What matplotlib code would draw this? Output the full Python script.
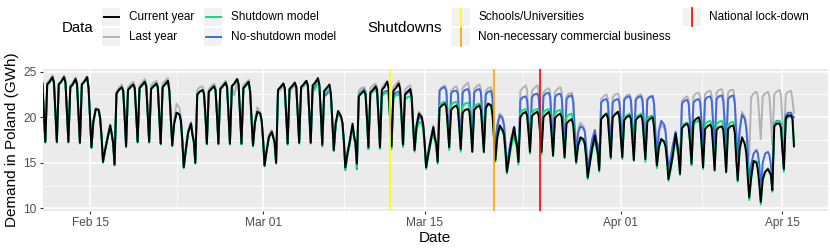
import pandas as pd
import matplotlib
matplotlib.use("Agg")
import matplotlib.pyplot as plt
import matplotlib.dates as mdates
from matplotlib.patches import Rectangle

plt.rcParams['font.family'] = ['Liberation Sans', 'DejaVu Sans']

# one row per day starting Mon 2020-02-10, values at these hours (GWh)
first_day = "2020-02-10"
hours = [0, 3, 7, 12, 18, 21]

current_year = [
    (20.0, 17.2, 23.3, 23.7, 24.2, 23.7), (20.6, 17.3, 23.6, 23.9, 24.4, 23.8),
    (20.6, 17.3, 23.6, 23.9, 24.4, 23.8), (20.5, 17.3, 23.3, 23.6, 24.2, 23.6),
    (20.5, 17.2, 23.6, 23.9, 24.4, 23.2), (19.9, 16.7, 19.5, 20.9, 20.8, 19.9),
    (17.9, 15.1, 16.3, 17.6, 19.1, 18.2), (17.2, 14.8, 22.6, 23.0, 23.3, 22.9),
    (20.1, 16.8, 23.0, 23.3, 23.6, 23.2), (20.4, 17.3, 23.2, 23.5, 23.9, 23.4),
    (20.4, 17.3, 23.1, 23.4, 23.7, 23.3), (20.3, 17.1, 23.3, 23.6, 24.0, 22.9),
    (19.8, 16.9, 19.3, 20.5, 20.3, 19.6), (17.4, 14.5, 16.3, 18.3, 19.3, 18.1),
    (17.3, 15.0, 22.5, 22.8, 23.0, 22.6), (20.2, 17.1, 22.8, 23.1, 23.4, 23.0),
    (20.3, 17.1, 23.1, 23.4, 23.8, 23.3), (20.4, 17.1, 23.4, 23.7, 24.2, 23.6),
    (20.4, 17.1, 23.2, 23.5, 23.9, 22.8), (19.7, 16.9, 19.4, 20.6, 20.4, 19.6),
    (17.5, 14.7, 16.2, 17.8, 18.4, 17.8), (17.2, 15.0, 23.0, 23.3, 23.7, 23.2),
    (20.3, 17.1, 23.1, 23.4, 23.8, 23.3), (20.4, 17.2, 23.3, 23.6, 24.0, 23.5),
    (20.5, 17.2, 23.5, 23.8, 24.3, 23.6), (20.5, 17.0, 22.9, 23.2, 23.6, 22.6),
    (19.6, 16.4, 19.4, 20.7, 20.1, 19.4), (17.3, 14.5, 15.9, 17.3, 19.3, 18.0),
    (17.2, 14.9, 22.3, 22.6, 22.9, 22.5), (19.9, 16.7, 22.7, 23.0, 23.4, 23.0),
    (20.1, 16.7, 23.0, 23.3, 23.9, 23.2), (20.1, 16.8, 22.9, 23.2, 23.7, 23.1),
    (20.0, 17.0, 22.5, 22.8, 23.1, 22.2), (19.1, 16.4, 19.0, 20.4, 20.0, 19.1),
    (17.1, 14.5, 15.8, 17.2, 18.9, 17.7), (17.1, 15.1, 21.0, 21.3, 21.5, 21.1),
    (19.0, 16.7, 20.8, 21.1, 21.3, 20.9), (18.9, 16.5, 20.5, 20.8, 20.9, 20.6),
    (18.8, 16.2, 20.8, 21.1, 21.3, 20.8), (18.6, 16.2, 21.0, 21.5, 21.3, 20.3),
    (17.9, 15.3, 17.8, 19.1, 18.6, 18.1), (16.3, 14.0, 15.4, 17.3, 18.9, 17.6),
    (16.9, 15.1, 20.0, 20.4, 20.6, 20.2), (18.4, 16.2, 20.1, 20.4, 20.6, 20.2),
    (18.3, 16.2, 20.0, 20.3, 20.6, 20.1), (18.1, 15.8, 19.9, 20.2, 20.4, 20.0),
    (17.9, 15.6, 19.3, 19.6, 19.8, 19.1), (17.1, 15.1, 16.9, 17.8, 17.6, 17.1),
    (15.6, 13.4, 14.8, 16.5, 18.0, 17.0), (16.1, 14.2, 19.8, 20.1, 20.4, 19.9),
    (17.8, 15.6, 20.0, 20.3, 20.6, 20.0), (17.7, 15.6, 19.7, 20.0, 20.2, 19.8),
    (17.6, 15.3, 19.7, 20.0, 20.2, 19.7), (17.5, 15.4, 19.5, 19.8, 20.0, 19.0),
    (16.7, 14.7, 16.7, 17.6, 17.3, 16.8), (15.3, 13.2, 14.3, 15.8, 18.2, 17.0),
    (15.8, 13.8, 18.8, 19.1, 19.3, 18.9), (17.2, 14.9, 19.5, 19.8, 20.0, 19.4),
    (17.0, 14.5, 18.7, 19.0, 19.2, 18.8), (16.7, 14.2, 18.6, 18.9, 19.0, 18.6),
    (16.5, 14.0, 18.7, 19.0, 19.1, 18.3), (15.4, 13.1, 16.5, 17.8, 17.0, 16.0),
    (13.3, 11.2, 13.4, 15.2, 15.0, 14.2), (12.6, 10.7, 13.2, 14.0, 14.3, 14.0),
    (13.7, 12.0, 19.0, 19.3, 19.3, 18.8), (16.4, 14.3, 19.9, 20.2, 20.2, 19.8),
    (16.8,),
]

last_year = [
    (20.2, 17.4, 23.6, 23.9, 24.4, 23.9), (20.8, 17.4, 23.8, 24.1, 24.6, 24.0),
    (20.8, 17.4, 23.7, 24.0, 24.6, 24.0), (20.6, 17.4, 23.5, 23.8, 24.4, 23.8),
    (20.6, 17.3, 23.7, 24.0, 24.5, 23.3), (20.0, 16.8, 19.7, 21.0, 20.9, 20.0),
    (18.0, 15.2, 16.4, 17.8, 19.2, 18.3), (17.3, 14.9, 22.8, 23.2, 23.6, 23.1),
    (20.3, 17.0, 23.3, 23.6, 23.9, 23.4), (20.6, 17.4, 23.5, 23.8, 24.2, 23.6),
    (20.6, 17.4, 23.5, 23.8, 24.0, 23.5), (20.5, 17.3, 23.7, 24.0, 24.3, 23.2),
    (20.1, 17.2, 19.8, 21.5, 21.0, 20.0), (17.7, 14.7, 16.6, 18.6, 19.5, 18.3),
    (17.5, 15.2, 23.0, 23.3, 23.4, 22.9), (20.4, 17.3, 23.1, 23.4, 23.7, 23.3),
    (20.5, 17.3, 23.3, 23.6, 24.0, 23.5), (20.6, 17.3, 23.4, 22.4, 24.0, 23.5),
    (20.6, 17.3, 23.5, 23.8, 24.1, 23.0), (19.9, 17.0, 19.7, 21.1, 20.6, 19.8),
    (17.7, 14.9, 16.5, 18.1, 18.6, 18.0), (17.4, 15.2, 22.7, 23.0, 23.5, 23.0),
    (20.4, 17.3, 22.8, 23.1, 23.5, 23.1), (20.5, 17.3, 23.0, 23.3, 23.8, 23.3),
    (20.6, 17.3, 23.1, 23.4, 23.8, 23.3), (20.5, 17.2, 22.7, 23.0, 23.3, 22.4),
    (19.7, 16.6, 19.4, 20.6, 20.2, 19.5), (17.5, 14.7, 16.2, 17.5, 19.0, 18.0),
    (17.4, 15.0, 22.9, 23.2, 23.3, 22.9), (20.1, 16.9, 23.2, 23.5, 23.7, 23.3),
    (20.3, 16.9, 23.3, 23.6, 24.0, 23.4), (20.3, 17.0, 23.3, 23.6, 24.0, 23.4),
    (20.2, 17.1, 23.0, 23.3, 23.5, 22.6), (19.4, 16.6, 19.3, 20.6, 20.2, 19.4),
    (17.3, 14.7, 16.2, 17.6, 19.1, 18.0), (17.4, 15.3, 23.0, 23.3, 23.5, 23.0),
    (20.2, 17.2, 22.9, 23.2, 23.4, 23.0), (20.2, 17.2, 23.2, 23.5, 23.8, 23.2),
    (20.2, 17.2, 23.1, 23.4, 23.6, 23.1), (20.0, 17.1, 22.9, 23.2, 23.3, 22.4),
    (19.3, 16.5, 19.2, 20.4, 20.1, 19.3), (17.2, 14.6, 16.1, 17.6, 19.0, 18.0),
    (17.4, 15.3, 22.9, 23.2, 23.5, 23.0), (20.0, 17.1, 22.9, 23.2, 23.5, 23.0),
    (20.0, 17.0, 22.7, 23.0, 23.2, 22.8), (19.9, 17.0, 22.8, 23.1, 23.3, 22.8),
    (19.7, 16.9, 22.3, 22.6, 22.7, 21.9), (18.9, 16.2, 18.6, 19.4, 19.0, 18.6),
    (16.9, 14.3, 15.7, 17.3, 18.5, 17.5), (17.0, 14.8, 22.0, 22.3, 22.5, 22.0),
    (19.4, 16.7, 22.2, 22.5, 22.6, 22.2), (19.4, 16.7, 22.1, 22.4, 22.5, 22.1),
    (19.4, 16.6, 22.1, 22.4, 22.5, 22.1), (19.3, 16.5, 22.0, 22.3, 22.4, 21.6),
    (18.3, 15.8, 18.3, 19.2, 18.8, 18.2), (16.5, 14.0, 15.4, 16.8, 18.3, 17.2),
    (16.8, 14.6, 21.8, 22.1, 22.3, 21.9), (19.3, 16.6, 22.3, 22.6, 22.7, 22.2),
    (19.3, 16.6, 22.5, 22.8, 22.9, 22.4), (19.4, 16.6, 22.7, 23.0, 23.1, 22.5),
    (19.4, 16.6, 22.7, 23.0, 23.0, 21.9), (18.5, 15.8, 18.4, 20.6, 20.0, 19.0),
    (17.4, 15.8, 22.2, 22.6, 22.8, 22.3), (20.0, 17.6, 22.3, 22.6, 22.8, 22.3),
    (19.8, 17.0, 22.5, 22.8, 23.0, 22.4), (19.8, 17.0, 22.5, 22.8, 22.9, 21.9),
    (20.5,),
]

no_shutdown_model = [
    (20.0, 17.2, 23.3, 23.7, 24.2, 23.7), (20.6, 17.3, 23.6, 23.9, 24.4, 23.8),
    (20.6, 17.3, 23.6, 23.9, 24.4, 23.8), (20.5, 17.3, 23.3, 23.6, 24.2, 23.6),
    (20.5, 17.2, 23.6, 23.9, 24.4, 23.2), (19.9, 16.7, 19.5, 20.9, 20.8, 19.9),
    (17.9, 15.1, 16.3, 17.6, 19.1, 18.2), (17.2, 14.8, 22.6, 23.0, 23.3, 22.9),
    (20.1, 16.8, 23.0, 23.3, 23.6, 23.2), (20.4, 17.3, 23.2, 23.5, 23.9, 23.4),
    (20.4, 17.3, 23.1, 23.4, 23.7, 23.3), (20.3, 17.1, 23.3, 23.6, 24.0, 22.9),
    (19.8, 16.9, 19.3, 20.5, 20.3, 19.6), (17.4, 14.5, 16.3, 18.3, 19.3, 18.1),
    (17.3, 15.0, 22.5, 22.8, 23.0, 22.6), (20.2, 17.1, 22.8, 23.1, 23.4, 23.0),
    (20.3, 17.1, 23.1, 23.4, 23.8, 23.3), (20.4, 17.1, 23.4, 23.7, 24.2, 23.6),
    (20.4, 17.1, 23.2, 23.5, 23.9, 22.8), (19.7, 16.9, 19.4, 20.6, 20.4, 19.6),
    (17.5, 14.7, 16.2, 17.8, 18.4, 17.8), (17.2, 15.0, 23.0, 23.3, 23.7, 23.2),
    (20.3, 17.1, 23.1, 23.4, 23.8, 23.3), (20.4, 17.2, 23.3, 23.6, 24.0, 23.5),
    (20.5, 17.2, 23.1, 23.4, 23.9, 23.4), (20.4, 16.8, 22.3, 22.5, 23.0, 22.3),
    (19.5, 16.3, 19.2, 20.4, 20.0, 19.3), (17.2, 14.2, 15.7, 17.0, 19.0, 17.8),
    (17.0, 14.3, 22.5, 22.8, 23.1, 22.7), (19.8, 16.5, 22.6, 22.9, 23.2, 22.8),
    (19.9, 16.6, 22.5, 22.8, 22.9, 22.5), (19.9, 16.7, 22.4, 22.7, 22.8, 22.5),
    (19.8, 16.8, 22.4, 22.7, 22.8, 22.1), (19.1, 16.4, 18.9, 20.0, 19.8, 19.0),
    (17.0, 14.4, 16.0, 17.5, 18.9, 17.8), (17.1, 15.4, 22.9, 23.2, 23.3, 22.9),
    (19.9, 17.0, 22.6, 22.9, 22.9, 22.6), (19.9, 17.0, 22.7, 23.0, 23.1, 22.7),
    (19.9, 17.0, 22.7, 23.0, 23.1, 22.7), (19.8, 16.8, 22.5, 22.8, 22.9, 22.1),
    (19.0, 16.2, 19.0, 20.2, 19.8, 19.1), (17.0, 14.4, 16.1, 17.6, 18.9, 17.8),
    (17.1, 15.2, 21.9, 22.2, 22.3, 21.9), (19.5, 16.7, 22.2, 22.5, 22.6, 22.2),
    (19.6, 16.7, 22.3, 22.6, 22.7, 22.2), (19.6, 16.6, 22.2, 22.5, 22.6, 22.1),
    (19.4, 16.5, 22.0, 22.3, 22.4, 21.7), (18.6, 16.0, 18.3, 19.0, 18.8, 18.4),
    (16.6, 14.0, 15.6, 17.5, 18.6, 17.5), (16.8, 14.6, 21.6, 21.9, 22.0, 21.6),
    (19.2, 16.4, 21.6, 21.9, 22.0, 21.6), (19.2, 16.4, 21.9, 22.2, 22.3, 21.8),
    (19.2, 16.3, 21.9, 22.2, 22.3, 21.8), (19.1, 16.2, 21.9, 22.2, 22.3, 21.5),
    (18.1, 15.5, 18.5, 19.6, 19.2, 18.5), (16.3, 13.8, 15.3, 16.9, 18.4, 17.2),
    (16.5, 14.4, 21.5, 21.8, 21.9, 21.5), (19.1, 16.2, 21.6, 21.9, 22.0, 21.6),
    (19.1, 16.2, 21.9, 22.2, 22.3, 21.8), (19.2, 16.2, 22.0, 22.3, 22.4, 21.8),
    (19.2, 16.2, 22.0, 22.3, 22.4, 21.5), (18.3, 15.5, 18.5, 20.3, 19.8, 18.7),
    (16.3, 13.0, 14.8, 16.0, 16.4, 16.0), (14.8, 11.8, 15.0, 16.0, 16.2, 15.8),
    (14.8, 12.5, 19.3, 19.6, 19.6, 19.2), (17.4, 14.8, 20.2, 20.5, 20.5, 20.1),
    (20.0,),
]

shutdown_model = [
    (19.9, 17.1, 23.3, 23.7, 24.2, 23.7), (20.5, 17.2, 23.6, 23.9, 24.4, 23.8),
    (20.5, 17.2, 23.6, 23.9, 24.4, 23.8), (20.4, 17.2, 23.3, 23.6, 24.2, 23.6),
    (20.4, 17.1, 23.6, 23.9, 24.4, 23.2), (19.8, 16.6, 19.5, 20.9, 20.8, 19.9),
    (17.8, 15.0, 16.3, 17.6, 19.1, 18.2), (17.1, 14.7, 22.6, 23.0, 23.3, 22.9),
    (20.0, 16.7, 23.0, 23.3, 23.6, 23.2), (20.3, 17.2, 23.2, 23.5, 23.9, 23.4),
    (20.3, 17.2, 23.1, 23.4, 23.7, 23.3), (20.2, 17.0, 23.3, 23.6, 24.0, 22.9),
    (19.7, 16.8, 19.3, 20.5, 20.3, 19.6), (17.3, 14.4, 16.3, 18.3, 19.3, 18.1),
    (17.2, 14.9, 22.5, 22.8, 23.0, 22.6), (20.1, 17.0, 22.8, 23.1, 23.4, 23.0),
    (20.2, 17.0, 23.1, 23.4, 23.8, 23.3), (20.3, 17.0, 23.4, 23.7, 24.2, 23.6),
    (20.3, 17.0, 23.2, 23.5, 23.9, 22.8), (19.6, 16.8, 19.4, 20.6, 20.4, 19.6),
    (17.4, 14.6, 16.2, 17.8, 18.4, 17.8), (17.1, 14.9, 23.0, 23.3, 23.7, 23.2),
    (20.2, 17.0, 23.1, 23.4, 23.8, 23.3), (20.3, 17.1, 23.3, 23.6, 24.0, 23.5),
    (20.4, 17.1, 22.8, 23.1, 23.8, 23.3), (20.3, 16.9, 22.5, 22.8, 23.0, 22.4),
    (19.5, 16.3, 19.2, 20.4, 20.0, 19.3), (17.2, 14.3, 15.7, 17.0, 19.0, 17.8),
    (17.0, 14.5, 22.4, 22.7, 23.0, 22.6), (19.7, 16.5, 22.5, 22.8, 23.0, 22.6),
    (19.8, 16.5, 22.3, 22.6, 22.7, 22.3), (19.7, 16.5, 22.1, 22.4, 22.5, 22.2),
    (19.6, 16.7, 21.9, 22.2, 22.3, 21.7), (18.8, 16.2, 18.5, 19.5, 19.3, 18.6),
    (16.7, 14.3, 15.6, 17.0, 18.6, 17.5), (16.7, 14.9, 21.3, 21.6, 21.7, 21.3),
    (18.9, 16.4, 21.3, 21.6, 21.7, 21.3), (18.9, 16.2, 21.2, 21.5, 21.6, 21.2),
    (18.8, 16.2, 21.1, 21.4, 21.5, 21.1), (18.7, 16.1, 21.0, 21.3, 21.4, 20.6),
    (17.9, 15.1, 17.7, 18.8, 18.5, 17.9), (16.0, 13.8, 15.2, 16.8, 18.0, 17.2),
    (16.5, 14.8, 20.5, 20.8, 20.9, 20.5), (18.4, 16.0, 20.5, 20.8, 20.9, 20.5),
    (18.4, 15.9, 20.5, 20.8, 20.9, 20.4), (18.3, 15.7, 20.4, 20.7, 20.8, 20.3),
    (18.1, 15.5, 20.0, 20.3, 20.4, 19.6), (17.1, 14.9, 16.8, 17.6, 17.4, 17.0),
    (15.3, 13.2, 14.6, 16.2, 17.6, 16.6), (15.8, 14.0, 19.9, 20.2, 20.4, 19.9),
    (17.7, 15.4, 20.1, 20.4, 20.6, 20.0), (17.7, 15.4, 19.9, 20.2, 20.4, 19.9),
    (17.7, 15.2, 19.9, 20.2, 20.4, 19.9), (17.6, 15.1, 19.8, 20.1, 20.2, 19.3),
    (16.6, 14.4, 16.6, 17.6, 17.4, 16.8), (15.1, 13.0, 14.1, 15.6, 17.9, 16.7),
    (15.5, 13.6, 19.0, 19.3, 19.4, 19.0), (17.1, 14.7, 19.2, 19.5, 19.6, 19.2),
    (17.0, 14.3, 19.2, 19.5, 19.6, 19.2), (16.9, 14.1, 19.2, 19.5, 19.6, 19.1),
    (16.8, 13.9, 19.1, 19.4, 19.5, 18.6), (15.7, 12.9, 16.3, 17.6, 17.2, 16.3),
    (14.5, 10.9, 13.2, 15.0, 15.2, 14.6), (12.9, 10.4, 13.0, 14.0, 14.4, 14.0),
    (13.5, 11.8, 19.2, 19.5, 19.6, 19.2), (16.6, 14.0, 19.7, 20.0, 20.1, 19.8),
    (17.2,),
]

shutdown_dates = ["2020-03-12", "2020-03-21", "2020-03-25"]
shutdown_labels = ["Schools/Universities", "Non-necessary commercial business",
                   "National lock-down"]
shutdown_colors = ["#FFFF00", "#FFA500", "#FF0000"]

tick_dates = ["2020-02-15", "2020-03-01", "2020-03-15", "2020-04-01", "2020-04-15"]
minor_dates = ["2020-02-22 12:00", "2020-03-08", "2020-03-23 12:00", "2020-04-08"]


def to_series(rows):
    start = pd.Timestamp(first_day)
    t, v = [], []
    for i, row in enumerate(rows):
        for h, val in zip(hours, row):
            t.append(start + pd.Timedelta(days=i, hours=h))
            v.append(val)
    return t, v


fig = plt.figure(figsize=(8.3, 2.49), dpi=100)
ax = fig.add_axes([42.7 / 830, 1 - 211 / 249, 785.3 / 830, 142 / 249])
ax.set_facecolor("#EBEBEB")

series = [(last_year, "#B3B3B3"), (no_shutdown_model, "#4169E1"),
          (shutdown_model, "#00E676"), (current_year, "black")]
for rows, col in series:
    t, v = to_series(rows)
    ax.plot(t, v, color=col, lw=1.4, solid_joinstyle="round", zorder=3)

for d, c in zip(shutdown_dates, shutdown_colors):
    ax.axvline(pd.Timestamp(d), color=c, lw=1.2, zorder=4)

ax.set_xlim(pd.Timestamp("2020-02-10 21:36"), pd.Timestamp("2020-04-18 22:48"))
ax.set_ylim(9.7, 25.3)

ax.set_xticks([pd.Timestamp(d) for d in tick_dates])
ax.xaxis.set_major_formatter(mdates.DateFormatter("%b %d"))
ax.set_xticks([pd.Timestamp(d) for d in minor_dates], minor=True)
ax.set_yticks([10, 15, 20, 25])
ax.set_yticks([12.5, 17.5, 22.5], minor=True)
ax.grid(which="major", color="white", lw=1.1, zorder=0)
ax.grid(which="minor", color="white", lw=0.55, zorder=0)
ax.set_axisbelow(True)
for s in ax.spines.values():
    s.set_visible(False)
ax.tick_params(which="major", length=2.5, width=0.8, color="#333333",
               labelsize=8.6, labelcolor="#4D4D4D", pad=2)
ax.tick_params(which="minor", length=0)
ax.set_xlabel("Date", fontsize=11, labelpad=1)
ax.set_ylabel("Demand in Poland (GWh)", fontsize=11, labelpad=3)

# legend drawn in pixel coordinates on top of the figure
lg = fig.add_axes([0, 0, 1, 1], facecolor="none")
lg.set_xlim(0, 830)
lg.set_ylim(249, 0)
lg.axis("off")

lg.text(62, 28, "Data", fontsize=10.8, va="center")
data_keys = [("Current year", "black", 102, 8), ("Last year", "#B3B3B3", 102, 28),
             ("Shutdown model", "#00E676", 204, 8),
             ("No-shutdown model", "#4169E1", 204, 28)]
for lab, col, x0, y0 in data_keys:
    lg.add_patch(Rectangle((x0, y0), 18, 17.5, color="#F2F2F2", lw=0))
    lg.plot([x0 + 1.5, x0 + 16.5], [y0 + 8.8, y0 + 8.8], color=col, lw=1.4)
    lg.text(x0 + 27, y0 + 9.3, lab, fontsize=8.5, va="center")

lg.text(367.5, 28, "Shutdowns", fontsize=10.8, va="center")
shut_pos = [(452, 8), (452, 28), (683, 8)]
for lab, col, (x0, y0) in zip(shutdown_labels, shutdown_colors, shut_pos):
    lg.add_patch(Rectangle((x0, y0), 17.5, 17.5, color="#F2F2F2", lw=0))
    lg.plot([x0 + 8.5, x0 + 8.5], [y0, y0 + 17.5], color=col, lw=1.2)
    lg.text(x0 + 26, y0 + 9.3, lab, fontsize=8.5, va="center")

fig.savefig("out.png", dpi=100)
